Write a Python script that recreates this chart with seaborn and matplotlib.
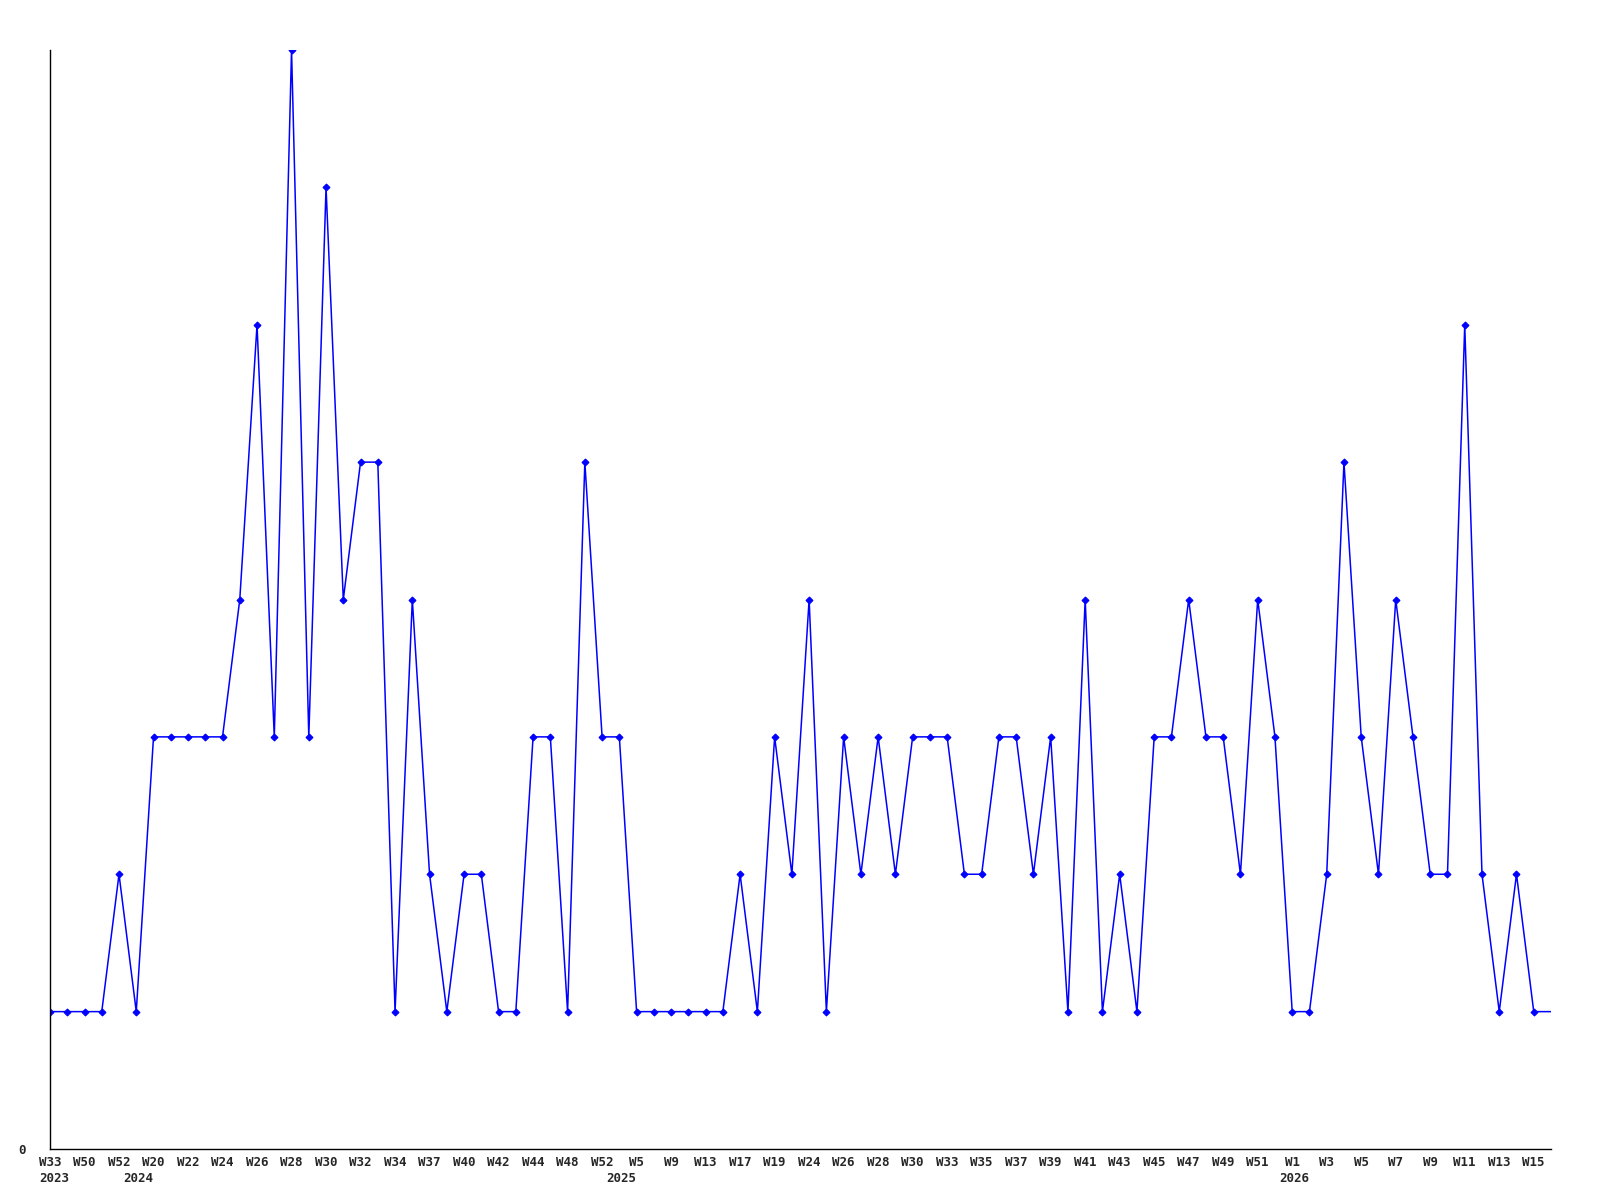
import numpy as np
import pandas as pd
import matplotlib
matplotlib.use("Agg")
import matplotlib.pyplot as plt
import seaborn as sns

# weekly counts, one per week shown on the axis (every 2nd week labelled)
counts = [1, 1, 1, 1, 2, 1, 3, 3, 3, 3,
          3, 4, 6, 3, 8, 3, 7, 4, 5, 5,
          1, 4, 2, 1, 2, 2, 1, 1, 3, 3,
          1, 5, 3, 3, 1, 1, 1, 1, 1, 1,
          2, 1, 3, 2, 4, 1, 3, 2, 3, 2,
          3, 3, 3, 2, 2, 3, 3, 2, 3, 1,
          4, 1, 2, 1, 3, 3, 4, 3, 3, 2,
          4, 3, 1, 1, 2, 5, 3, 2, 4, 3,
          2, 2, 6, 2, 1, 2, 1, 1]

week_labels = ["W33", "W50", "W52", "W20", "W22", "W24", "W26", "W28", "W30", "W32",
               "W34", "W37", "W40", "W42", "W44", "W48", "W52", "W5", "W9", "W13",
               "W17", "W19", "W24", "W26", "W28", "W30", "W33", "W35", "W37", "W39",
               "W41", "W43", "W45", "W47", "W49", "W51", "W1", "W3", "W5", "W7",
               "W9", "W11", "W13", "W15"]
# label index -> year text
year_marks = {0: "2023", 3: "2024", 17: "2025", 36: "2026"}

df = pd.DataFrame({"idx": np.arange(len(counts)), "count": counts})

sns.set_style("white")
plt.rcParams['font.family'] = ['DejaVu Sans Mono', 'DejaVu Sans']

fig = plt.figure(figsize=(16, 12), dpi=100)
ax = fig.add_axes([50 / 1600, 1 - 1149 / 1200, 1501 / 1600, 1099 / 1200])

sns.lineplot(data=df, x="idx", y="count", ax=ax, color="#0000ff", linewidth=1.1,
             marker="D", markersize=3.5, markeredgewidth=0.8, markeredgecolor="#0000ff",
             markevery=list(range(len(counts) - 1)))

ax.set_xlim(0, len(counts) - 1)
ax.set_ylim(0, max(counts))

tick_pos = np.arange(0, len(counts), 2)
ax.set_xticks(tick_pos)
ax.set_xticklabels(week_labels, fontsize=9, fontweight="bold", ha="center")
ax.tick_params(axis="x", length=0, pad=5)

# year captions under the first week of each year
for i, year in year_marks.items():
    if i == 0:
        ha, dx = "left", -7.5
    elif i == 36:
        ha, dx = "left", -9
    else:
        ha, dx = "right", -0.5
    ax.annotate(year, xy=(tick_pos[i], 0), xycoords=("data", "axes fraction"),
                xytext=(dx, -21.5), textcoords="offset points",
                ha=ha, va="center", fontsize=9, fontweight="bold",
                annotation_clip=False)

ax.set_yticks([0])
ax.set_yticklabels(["0"], fontsize=9, fontweight="bold")
ax.tick_params(axis="y", length=0, pad=17.5)

for side in ["top", "right"]:
    ax.spines[side].set_visible(False)
for side in ["left", "bottom"]:
    ax.spines[side].set_color("black")
    ax.spines[side].set_linewidth(1)

ax.set_xlabel("")
ax.set_ylabel("")
ax.grid(False)

fig.savefig("out.png", dpi=100)
